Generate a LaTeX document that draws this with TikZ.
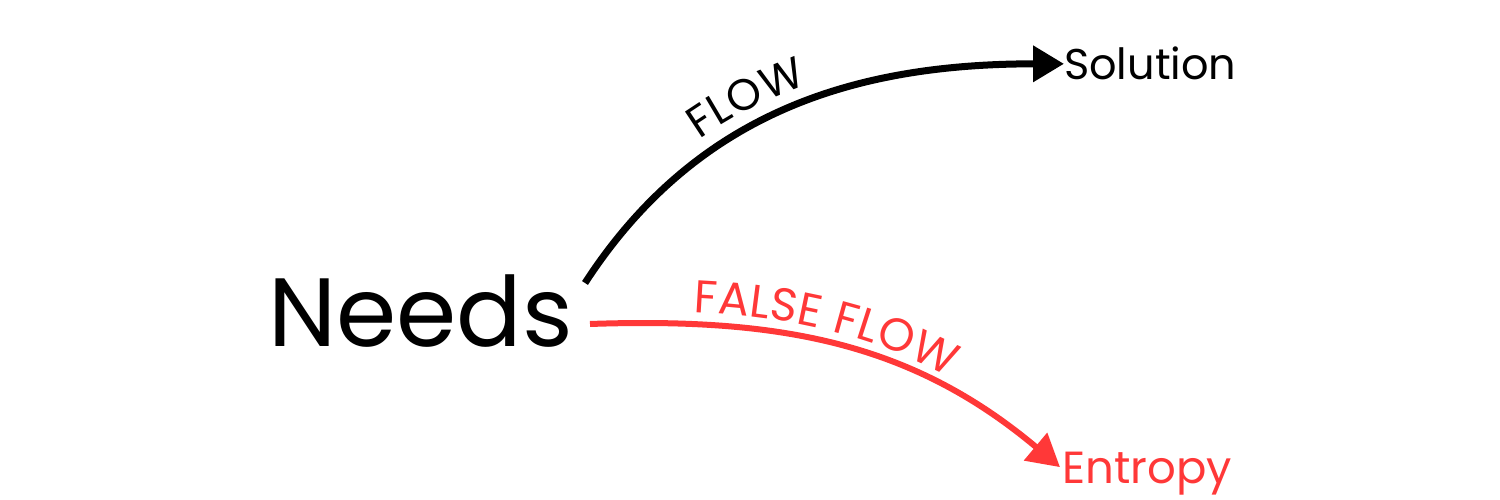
\documentclass[tikz,border=0pt]{standalone}
\usepackage{fontspec}
\setmainfont{Poppins}
\usetikzlibrary{arrows.meta,decorations.text}

\definecolor{flowred}{RGB}{255,56,56}
\newcommand{\flowsize}{\fontsize{44}{44}\selectfont}
\newcommand{\falsesize}{\fontsize{46}{46}\selectfont}

\begin{document}
\begin{tikzpicture}[
  x=1pt, y=1pt,
  big/.style={font=\fontsize{97}{97}\selectfont, inner sep=0pt, anchor=base west},
  goal/.style={font=\fontsize{43}{43}\selectfont, inner sep=0pt, anchor=base west},
  flow/.style={-{Triangle[length=31pt,width=35pt]}, line width=7pt},
  falseflow/.style={-{Triangle[length=32pt,width=35pt]}, line width=6pt, draw=flowred}
]
\useasboundingbox (0,0) rectangle (1500,500);

\node[big] (needs) at (268,153) {Needs};
\node[goal] (solution) at (1064,420) {Solution};
\node[goal, text=flowred, font=\fontsize{45}{45}\selectfont] (entropy) at (1062,16) {Entropy};

\coordinate (flowfrom) at (585,217);
\coordinate (falsefrom) at (590,176);

\draw[flow, postaction={decorate, decoration={text along path,
    text={|\flowsize|FLOW}, raise=16pt, text align={left indent=180pt}}}]
  (flowfrom) to[out=57, in=180] (solution.west);
\draw[falseflow, postaction={decorate, decoration={text along path,
    text={|\falsesize|FALSE FLOW}, text color=flowred, raise=12pt, text align={left indent=103pt}}}]
  (falsefrom) to[out=2, in=140] ([shift={(-2pt,7pt)}]entropy.west);

\end{tikzpicture}
\end{document}
